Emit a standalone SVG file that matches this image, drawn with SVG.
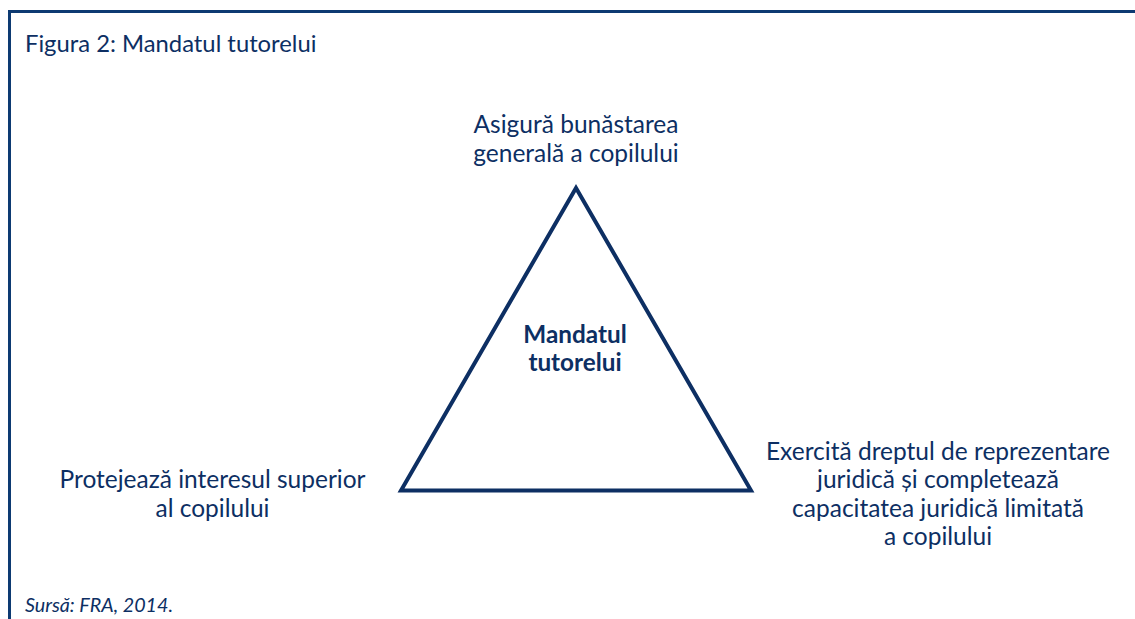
<svg xmlns="http://www.w3.org/2000/svg" width="1135" height="619" viewBox="0 0 1135 619">
<style>
.t{font-family:Lato,"Open Sans","Liberation Sans",sans-serif;fill:#0d2f63;font-size:24.5px}
.c{text-anchor:middle}
.b{font-weight:bold;font-size:24.3px}
.frame{stroke:#0d3a72;stroke-width:3;fill:none}
</style>
<rect width="1135" height="619" fill="#ffffff"/>
<g id="frame">
<path class="frame" d="M9.5,619 V11.5 H1135"/>
</g>
<text class="t" x="25" y="52" style="font-size:23.8px">Figura 2: Mandatul tutorelui</text>
<g id="connectors">
<polygon points="576,188 401,490.5 751,490.5" fill="none" stroke="#0d2f63" stroke-width="4" stroke-linejoin="miter"/>
</g>
<g id="center">
<text class="t c b" x="575" y="343">Mandatul</text>
<text class="t c b" x="575" y="371">tutorelui</text>
</g>
<g id="top">
<text class="t c" x="576" y="133">Asigură bunăstarea</text>
<text class="t c" x="576" y="162">generală a copilului</text>
</g>
<g id="left">
<text class="t c" x="212.5" y="488">Protejează interesul superior</text>
<text class="t c" x="212.5" y="517">al copilului</text>
</g>
<g id="right">
<text class="t c" x="938" y="460">Exercită dreptul de reprezentare</text>
<text class="t c" x="938" y="488">juridică și completează</text>
<text class="t c" x="938" y="517">capacitatea juridică limitată</text>
<text class="t c" x="938" y="545">a copilului</text>
</g>
<text class="t" x="25" y="612" style="font-size:19.7px;font-style:italic">Sursă: FRA, 2014.</text>
</svg>
